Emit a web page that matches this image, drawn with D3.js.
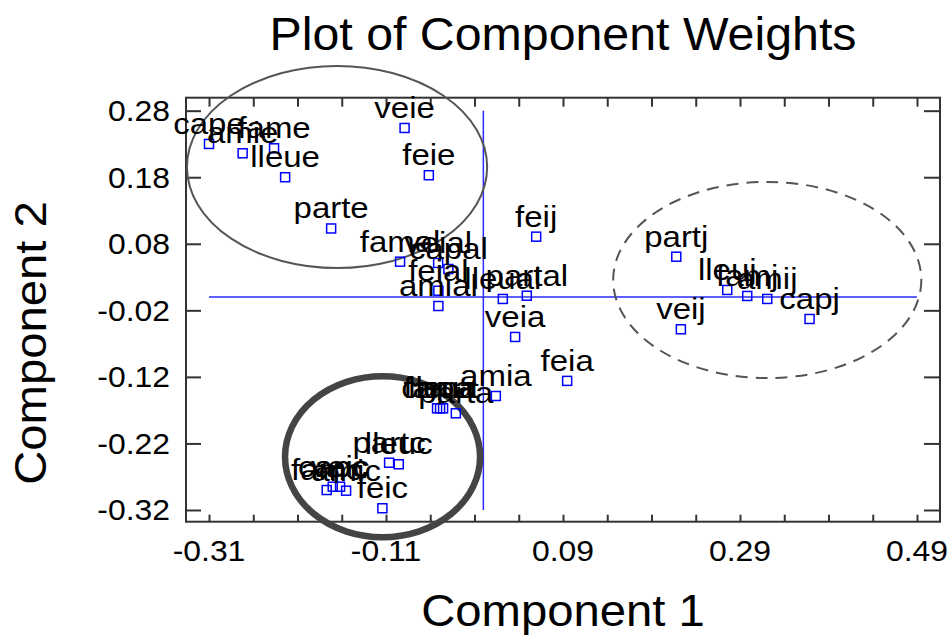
<!DOCTYPE html>
<html><head><meta charset="utf-8">
<script src="https://cdn.jsdelivr.net/npm/d3@7"></script>
<style>body{margin:0;background:#fff}svg{display:block}text{font-family:"Liberation Sans",Arial,sans-serif}</style>
</head><body><svg id="c" width="952" height="637"></svg>
<script>
const labels = ["cape","amie","fame","lleue","parte","veie","feie",
  "feij","partj","veij","lleuj","famj","amij","capj",
  "famal","veial","capal","feial","amial","lleual","partal",
  "veia","feia","amia","capa","fama","lleua","parta",
  "famc","capc","veic","amic","partc","lleuc","feic"];
const comp1 = [-0.310,-0.272,-0.2365,-0.224,-0.172,-0.089,-0.0616,
  0.0597,0.218,0.2232,0.2756,0.2982,0.3208,0.3686,
  -0.0941,-0.0511,-0.0395,-0.0508,-0.0508,0.022,0.0491,
  0.0359,0.0947,0.0141,-0.0523,-0.0489,-0.0455,-0.0311,
  -0.177,-0.1702,-0.1619,-0.1551,-0.1065,-0.0956,-0.1141];
const comp2 = [0.230,0.216,0.2235,0.180,0.103,0.254,0.183,
  0.0907,0.0606,-0.0485,0.0106,0.0016,-0.0029,-0.033,
  0.0531,0.0512,0.0421,0.0095,-0.0135,-0.0029,0.002,
  -0.060,-0.126,-0.1487,-0.1672,-0.1672,-0.1672,-0.1747,
  -0.290,-0.285,-0.285,-0.291,-0.249,-0.2513,-0.3174];
const xTickLabels = ["-0.31","-0.11","0.09","0.29","0.49"];
const yTickLabels = ["0.28","0.18","0.08","-0.02","-0.12","-0.22","-0.32"];
const xMinorTicks = d3.range(-0.31, 0.4901, 0.05);
// annotation ellipses: centre x, centre y, radius x, radius y (data units)
const ellCx = [-0.1653, 0.3208, -0.1139];
const ellCy = [0.1954, 0.0256, -0.2399];
const ellRx = [0.1696, 0.1741, 0.1102];
const ellRy = [0.1518, 0.1473, 0.121];
const ellStyle = ["thin","dashed","thick"];

const svg = d3.select("#c");
const L=186, R=940, T=97.7, B=521.7;
const x = d3.scaleLinear().domain([-0.336, 0.516]).range([L, R]);
const y = d3.scaleLinear().domain([-0.3376, 0.2995]).range([B, T]);

// title
svg.append("text").attr("x",0).attr("y",0).attr("text-anchor","middle")
  .attr("font-size",46).attr("transform",`translate(${(L+R)/2},50) scale(1.05,1)`).text("Plot of Component Weights");
svg.append("text").attr("text-anchor","middle").attr("font-size",45)
  .attr("transform",`translate(${(L+R)/2},626) scale(1.05,1)`).text("Component 1");
svg.append("text").attr("text-anchor","middle").attr("font-size",45)
  .attr("transform",`translate(46,343) rotate(-90) scale(1.05,1)`).text("Component 2");

// reference lines
const g = svg.append("g");
g.append("line").attr("x1",x(-0.31)).attr("x2",x(0.49)).attr("y1",y(0)).attr("y2",y(0))
  .attr("stroke","#2a2aff").attr("stroke-width",1.5);
g.append("line").attr("x1",x(0)).attr("x2",x(0)).attr("y1",y(0.28)).attr("y2",y(-0.32))
  .attr("stroke","#2a2aff").attr("stroke-width",1.5);

// frame
g.append("rect").attr("x",L).attr("y",T).attr("width",R-L).attr("height",B-T)
  .attr("fill","none").attr("stroke","#333").attr("stroke-width",2);

// axes ticks
const xb = d3.axisBottom(x).tickValues(xMinorTicks).tickSize(-7).tickFormat("");
const xt = d3.axisTop(x).tickValues(xMinorTicks).tickSize(-9).tickFormat("");
const yl = d3.axisLeft(y).tickValues(yTickLabels.map(Number)).tickSize(-15).tickFormat("");
const yr = d3.axisRight(y).tickValues(yTickLabels.map(Number)).tickSize(-16).tickFormat("");
[[xb,`translate(0,${B})`],[xt,`translate(0,${T})`],[yl,`translate(${L},0)`],[yr,`translate(${R},0)`]].forEach(([a,t])=>{
  const ax = g.append("g").attr("transform",t).call(a);
  ax.select(".domain").remove();
  ax.selectAll("line").attr("stroke","#333").attr("stroke-width",2);
});
// tick labels
xTickLabels.forEach(s=>{
  svg.append("text").attr("text-anchor","middle").attr("font-size",29)
    .attr("transform",`translate(${x(+s)},561) scale(1.1,1)`).text(s);
});
yTickLabels.forEach(s=>{
  svg.append("text").attr("text-anchor","end").attr("font-size",29).attr("dy","0.36em")
    .attr("transform",`translate(170,${y(+s)}) scale(1.1,1)`).text(s);
});

// ellipses
ellCx.forEach((cx,i)=>{
  const e = svg.append("ellipse").attr("cx",x(cx)).attr("cy",y(ellCy[i]))
    .attr("rx",x(ellRx[i])-x(0)).attr("ry",y(0)-y(ellRy[i])).attr("fill","none");
  if(ellStyle[i]==="thin") e.attr("stroke","#555").attr("stroke-width",2);
  if(ellStyle[i]==="dashed") e.attr("stroke","#555").attr("stroke-width",2).attr("stroke-dasharray","12,8");
  if(ellStyle[i]==="thick") e.attr("stroke","#444").attr("stroke-width",6.5);
});

// points
const pts = labels.map((l,i)=>({l, a:comp1[i], b:comp2[i]}));
svg.append("g").selectAll("rect").data(pts).join("rect")
  .attr("x",d=>x(d.a)-4.5).attr("y",d=>y(d.b)-4.5).attr("width",9).attr("height",9)
  .attr("fill","none").attr("stroke","#0000ff").attr("stroke-width",1.5);
svg.append("g").selectAll("text").data(pts).join("text")
  .attr("text-anchor","middle").attr("font-size",30)
  .attr("transform",d=>`translate(${x(d.a)},${y(d.b)-10}) scale(1.1,1)`).text(d=>d.l);
</script></body></html>
